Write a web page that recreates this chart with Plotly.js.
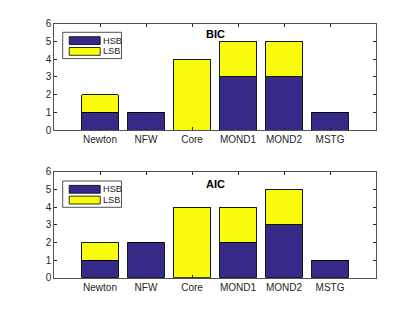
<!DOCTYPE html>
<html><head><meta charset="utf-8">
<script src="https://cdn.plot.ly/plotly-3.0.1.min.js"></script>
<style>html,body{margin:0;padding:0;background:#fff}#chart{width:415px;height:312px}</style>
</head><body><div id="chart"></div>
<script>
const categories = ["Newton","NFW","Core","MOND1","MOND2","MSTG"];
const bicHSB = [1,1,0,3,3,1];
const bicLSB = [1,0,4,2,2,0];
const aicHSB = [1,2,0,2,3,1];
const aicLSB = [1,0,4,2,2,0];
const seriesNames = ["HSB","LSB"];
const panelTitles = ["BIC","AIC"];
const yTicks = [0,1,2,3,4,5,6];

(function(){
const W=415,H=312;
const px = x=>x/W, py = y=>1-y/H;
const blue="#352a87", yellow="#f9fb0e", axc="#262626";
const xs = categories.map((c,i)=>i+1);
const font={family:"Liberation Sans, Arial, sans-serif",size:10,color:axc};
const lfont={family:"Liberation Sans, Arial, sans-serif",size:9.2,color:axc};

function bar(y,name,color,xa,ya){
  return {type:"bar",x:xs,y:y,name:name,xaxis:xa,yaxis:ya,width:0.8,showlegend:false,
    marker:{color:color,line:{color:"#000",width:0.9}},hoverinfo:"skip"};
}
const data=[bar(bicHSB,seriesNames[0],blue,"x","y"),bar(bicLSB,seriesNames[1],yellow,"x","y"),
            bar(aicHSB,seriesNames[0],blue,"x2","y2"),bar(aicLSB,seriesNames[1],yellow,"x2","y2")];

function xax(anchor,dom){return {domain:dom,anchor:anchor,range:[0,7],tickvals:xs,ticktext:categories,
  ticks:"inside",ticklen:3,tickcolor:axc,showline:true,linecolor:axc,linewidth:0.8,mirror:"ticks",
  showgrid:false,zeroline:false,tickfont:font,fixedrange:true};}
function yax(anchor,dom){return {domain:dom,anchor:anchor,range:[0,6],tickvals:yTicks,
  ticks:"inside",ticklen:3,tickcolor:axc,showline:true,linecolor:axc,linewidth:0.8,mirror:"ticks",
  showgrid:false,zeroline:false,tickfont:font,fixedrange:true};}

const xd=[px(54),px(376)];
const topP={t:23.7,b:130}, botP={t:171.7,b:277.7};
const shapes=[], annotations=[];
function legend(offY,titleY,title){
  shapes.push({type:"rect",xref:"paper",yref:"paper",x0:px(62.7),x1:px(121.5),y0:py(offY),y1:py(offY+26.3),
    line:{color:axc,width:0.8},fillcolor:"#fff",layer:"above"});
  const sw=[[blue,offY+4.4,seriesNames[0]],[yellow,offY+15.2,seriesNames[1]]];
  sw.forEach(s=>{
    shapes.push({type:"rect",xref:"paper",yref:"paper",x0:px(69.2),x1:px(100.2),y0:py(s[1]),y1:py(s[1]+7.8),
      line:{color:"#000",width:0.8},fillcolor:s[0],layer:"above"});
    annotations.push({xref:"paper",yref:"paper",x:px(101.6),y:py(s[1]+3.9),xanchor:"left",yanchor:"middle",
      borderpad:0,text:s[2],showarrow:false,font:lfont});
  });
  annotations.push({xref:"paper",yref:"paper",x:px(215.5),y:py(titleY),xanchor:"center",yanchor:"middle",
    text:"<b>"+title+"</b>",showarrow:false,font:{family:font.family,size:11,color:"#000"}});
}
legend(32.3,34,panelTitles[0]);
legend(181,183.5,panelTitles[1]);

const layout={width:W,height:H,margin:{l:0,r:0,t:0,b:0},paper_bgcolor:"#fff",plot_bgcolor:"#fff",
  barmode:"stack",showlegend:false,font:font,
  xaxis:xax("y",xd),yaxis:yax("x",[py(topP.b),py(topP.t)]),
  xaxis2:xax("y2",xd),yaxis2:yax("x2",[py(botP.b),py(botP.t)]),
  shapes:shapes,annotations:annotations};
Plotly.newPlot("chart",data,layout,{displayModeBar:false,staticPlot:true});
})();
</script></body></html>
